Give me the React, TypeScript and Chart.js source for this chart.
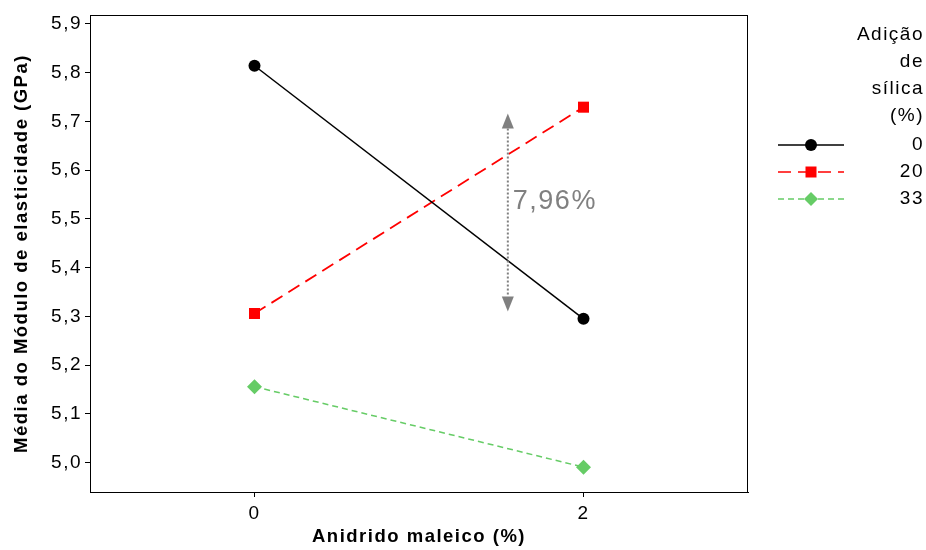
import React, { useEffect, useRef } from "react";
import { Chart, registerables } from "chart.js";

Chart.register(...registerables);

const xValues = [0, 2];
const series0 = [5.814, 5.295];
const series20 = [5.306, 5.729];
const series33 = [5.156, 4.991];
const seriesLabels = ["0", "20", "33"];
const yTicks = [5.0, 5.1, 5.2, 5.3, 5.4, 5.5, 5.6, 5.7, 5.8, 5.9];
const xTicks = [0, 2];
const legendTitle = ["Adição", "de", "sílica", "(%)"];
const arrowX = 1.54;
const arrowTop = 5.716;
const arrowBottom = 5.31;
const arrowText = "7,96%";

const FONT = "'Liberation Sans', Arial, sans-serif";
const colors = ["#000000", "#ff0000", "#66cc66"];
const dashes = [[], [13, 7], [6, 4]];
const shapes = ["circle", "rect", "rectRot"];
const radii = [6, 7.8, 7.5];
const legendR = [6, 5.5, 7];

function drawMarker(ctx: CanvasRenderingContext2D, shape: string, x: number, y: number, r: number, color: string) {
  ctx.save();
  ctx.fillStyle = color;
  ctx.beginPath();
  if (shape === "circle") {
    ctx.arc(x, y, r, 0, Math.PI * 2);
  } else if (shape === "rect") {
    ctx.rect(x - r, y - r, 2 * r, 2 * r);
  } else {
    ctx.moveTo(x, y - r);
    ctx.lineTo(x + r, y);
    ctx.lineTo(x, y + r);
    ctx.lineTo(x - r, y);
    ctx.closePath();
  }
  ctx.fill();
  ctx.restore();
}

const spacingPlugin = {
  id: "spacing",
  beforeDraw(chart: any) {
    (chart.ctx as any).letterSpacing = "1.5px";
  },
};

const framePlugin = {
  id: "frameAndExtras",
  afterDraw(chart: any) {
    const ctx: CanvasRenderingContext2D = chart.ctx;
    const { left, right, top, bottom } = chart.chartArea;
    ctx.save();
    (ctx as any).letterSpacing = "1.5px";
    ctx.strokeStyle = "#000";
    ctx.lineWidth = 1;
    ctx.strokeRect(left + 0.5, top + 0.5, right - left - 1, bottom - top);
    // annotation
    const xs = chart.scales.x;
    const ys = chart.scales.y;
    const ax = xs.getPixelForValue(arrowX);
    const yT = ys.getPixelForValue(arrowTop);
    const yB = ys.getPixelForValue(arrowBottom);
    const head = 15;
    const hw = 6;
    ctx.strokeStyle = "#808080";
    ctx.fillStyle = "#808080";
    ctx.lineWidth = 2;
    ctx.setLineDash([2, 2]);
    ctx.beginPath();
    ctx.moveTo(ax, yT + head);
    ctx.lineTo(ax, yB - head);
    ctx.stroke();
    ctx.setLineDash([]);
    ctx.beginPath();
    ctx.moveTo(ax, yT);
    ctx.lineTo(ax + hw, yT + head);
    ctx.lineTo(ax - hw, yT + head);
    ctx.closePath();
    ctx.fill();
    ctx.beginPath();
    ctx.moveTo(ax, yB);
    ctx.lineTo(ax + hw, yB - head);
    ctx.lineTo(ax - hw, yB - head);
    ctx.closePath();
    ctx.fill();
    ctx.font = `27px ${FONT}`;
    ctx.textAlign = "left";
    ctx.textBaseline = "middle";
    ctx.fillText(arrowText, ax + 5, (yT + yB) / 2 - 11);
    // legend
    ctx.fillStyle = "#000";
    ctx.font = `19px ${FONT}`;
    ctx.textAlign = "right";
    ctx.textBaseline = "middle";
    const rx = 924;
    legendTitle.forEach((t, i) => ctx.fillText(t, rx, 35 + i * 27));
    seriesLabels.forEach((lab, i) => {
      const y = 145 + i * 27;
      ctx.save();
      ctx.strokeStyle = colors[i];
      ctx.lineWidth = 1.5;
      ctx.setLineDash(dashes[i]);
      ctx.beginPath();
      ctx.moveTo(778, y);
      ctx.lineTo(844, y);
      ctx.stroke();
      ctx.restore();
      drawMarker(ctx, shapes[i], 811, y, legendR[i], colors[i]);
      ctx.fillStyle = "#000";
      ctx.fillText(lab, rx, y);
    });
    ctx.restore();
  },
};

export default function App() {
  const ref = useRef<HTMLCanvasElement>(null);
  useEffect(() => {
    document.body.style.margin = "0";
    const mk = (vals: number[], i: number) => ({
      label: seriesLabels[i],
      data: xValues.map((x, j) => ({ x, y: vals[j] })),
      borderColor: colors[i],
      backgroundColor: colors[i],
      borderWidth: i === 1 ? 1.8 : 1.5,
      borderDash: dashes[i],
      pointStyle: shapes[i],
      pointRadius: radii[i],
      pointBorderWidth: 0,
      tension: 0,
    });
    const chart = new Chart(ref.current!, {
      type: "line",
      data: { datasets: [mk(series0, 0), mk(series20, 1), mk(series33, 2)] },
      plugins: [spacingPlugin, framePlugin],
      options: {
        animation: false,
        responsive: false,
        maintainAspectRatio: false,
        layout: { padding: { top: 15, right: 178, left: 0, bottom: 0 } },
        plugins: { legend: { display: false }, tooltip: { enabled: false } },
        scales: {
          x: {
            type: "linear",
            min: -1,
            max: 3,
            afterBuildTicks: (s: any) => {
              s.ticks = xTicks.map((v) => ({ value: v }));
            },
            afterFit: (s: any) => {
              s.height = 58;
            },
            grid: { display: true, drawOnChartArea: false, drawTicks: true, tickLength: 5, color: "#000" },
            border: { display: true, color: "#000", width: 1 },
            ticks: {
              color: "#000",
              font: { family: FONT, size: 19 },
              padding: 5,
              maxRotation: 0,
              callback: (v: any) => String(v),
            },
            title: {
              display: true,
              text: "Anidrido maleico (%)",
              color: "#000",
              font: { family: FONT, size: 18.5, weight: "bold" },
              padding: { top: 0, bottom: 2 },
            },
          },
          y: {
            type: "linear",
            min: 4.94,
            max: 5.918,
            afterBuildTicks: (s: any) => {
              s.ticks = yTicks.map((v) => ({ value: v }));
            },
            afterFit: (s: any) => {
              s.width = 90;
            },
            grid: { display: true, drawOnChartArea: false, drawTicks: true, tickLength: 5, color: "#000" },
            border: { display: true, color: "#000", width: 1 },
            ticks: {
              color: "#000",
              font: { family: FONT, size: 19 },
              padding: 3,
              callback: (v: any) => Number(v).toFixed(1).replace(".", ","),
            },
            title: {
              display: true,
              text: "Média do Módulo de elasticidade (GPa)",
              color: "#000",
              font: { family: FONT, size: 18.5, weight: "bold" },
              padding: { top: 11, bottom: 0 },
            },
          },
        },
      },
    } as any);
    return () => chart.destroy();
  }, []);
  return (
    <div style={{ width: 926, height: 550 }}>
      <canvas ref={ref} width={926} height={550} style={{ width: 926, height: 550 }} />
    </div>
  );
}
